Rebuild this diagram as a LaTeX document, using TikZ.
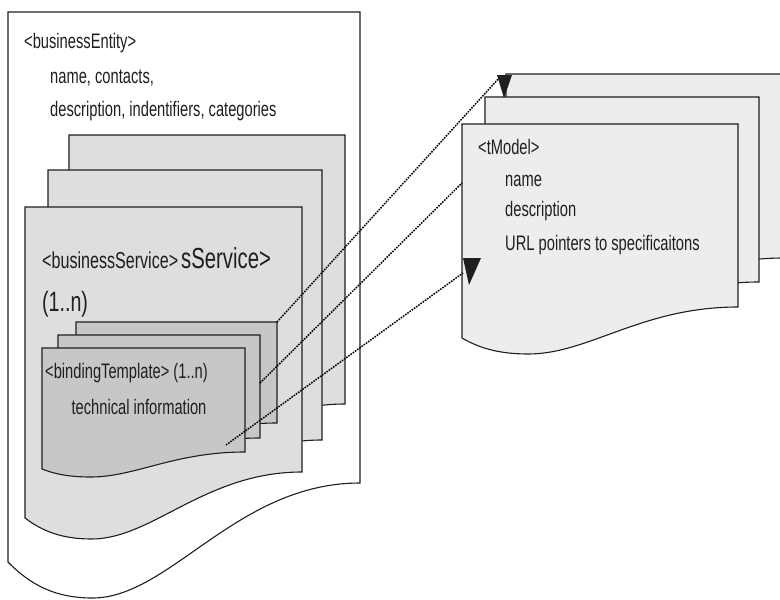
\documentclass[tikz,border=0pt]{standalone}
\usepackage{fontspec}
\setmainfont{Liberation Sans}[FakeStretch=0.70]

\definecolor{svcfill}{gray}{0.87}
\definecolor{bindfill}{gray}{0.78}
\definecolor{tmfill}{gray}{0.93}
\definecolor{ink}{gray}{0.12}

\tikzset{
  page/.style={draw=ink, line width=1.1pt, line join=miter},
  label/.style={anchor=base west, inner sep=0pt, text=ink, font=\fontsize{21}{23}\selectfont},
  link/.style={draw=black, line width=1.5pt, dash pattern=on 1.6pt off 1.1pt},
  tip/.style={fill=ink, draw=none}
}

% document page with a wavy lower edge:
% #1 left, #2 top, #3 right, #4 lower-left y, #5 lowest y, #6 lower-right y, #7 fill
\newcommand{\docpage}[7]{%
  \pgfmathsetmacro\dw{#3-#1}%
  \filldraw[page, fill=#7] (#1,#4) -- (#1,#2) -- (#3,#2) -- (#3,#6)
    .. controls ({#3-0.35*\dw},#6) and ({#1+0.46*\dw},#5) .. ({#1+0.24*\dw},#5)
    .. controls ({#1+0.13*\dw},#5) and ({#1+0.06*\dw},{#4+0.6*(#5-#4)}) .. (#1,#4) -- cycle;
}

\begin{document}
\begin{tikzpicture}[x=1pt, y=-1pt]
\useasboundingbox (0,0) rectangle (780,600);
\fill[white] (0,0) rectangle (780,600);

% businessEntity
\docpage{8}{12}{360}{562}{598}{483}{white}
\node[label] (be)   at (24,48)  {<businessEntity>};
\node[label] (be1)  at (50,83)  {name, contacts,};
\node[label] (be2)  at (50,116) {description, indentifiers, categories};

% businessService stack
\docpage{69}{135}{345}{450}{471}{404}{svcfill}
\docpage{48}{170}{322}{486}{507}{440}{svcfill}
\docpage{25}{207}{302}{518}{539}{472}{svcfill}
\node[label] (bs) at (42,268) {\fontsize{23}{25}\selectfont<businessService>\hspace{3pt}\fontsize{29}{31}\selectfont sService>};
\node[label] (bsn) at (42,311) {\fontsize{28}{30}\selectfont(1..n)};

% bindingTemplate stack
\docpage{76}{322}{277}{440}{448}{423}{bindfill}
\docpage{58}{335}{260}{455}{463}{438}{bindfill}
\docpage{42}{348}{245}{469}{477}{452}{bindfill}
\node[label] (bt)  at (45,378) {<bindingTemplate> (1..n)};
\node[label, anchor=base] (bti) at (139,414) {technical information};

% tModel stack
\docpage{506}{74}{784}{289}{305}{258}{tmfill}
\docpage{485}{97}{759}{313}{329}{282}{tmfill}
\docpage{462}{124}{738}{338}{354}{307}{tmfill}
\node[label] (tm)  at (478,154) {<tModel>};
\node[label] (tm1) at (505,186) {name};
\node[label] (tm2) at (505,216) {description};
\node[label] (tm3) at (505,250) {URL pointers to specificaitons};

% link end points
\coordinate (b1) at (277,322);
\coordinate (b2) at (260,383);
\coordinate (b3) at (226,445);
\coordinate (t1) at (500,77);
\coordinate (t2) at (462,183);
\coordinate (t3) at (463,273);

\draw[link] (b1) -- (t1);
\draw[link] (b2) -- (t2);
\draw[link] (b3) -- (t3);

% arrow heads
\fill[tip] (497,75) -- (512,75) -- (504,98) -- cycle;
\fill[tip] (463,258) -- (481,258) -- (469,285) -- cycle;
\end{tikzpicture}
\end{document}
